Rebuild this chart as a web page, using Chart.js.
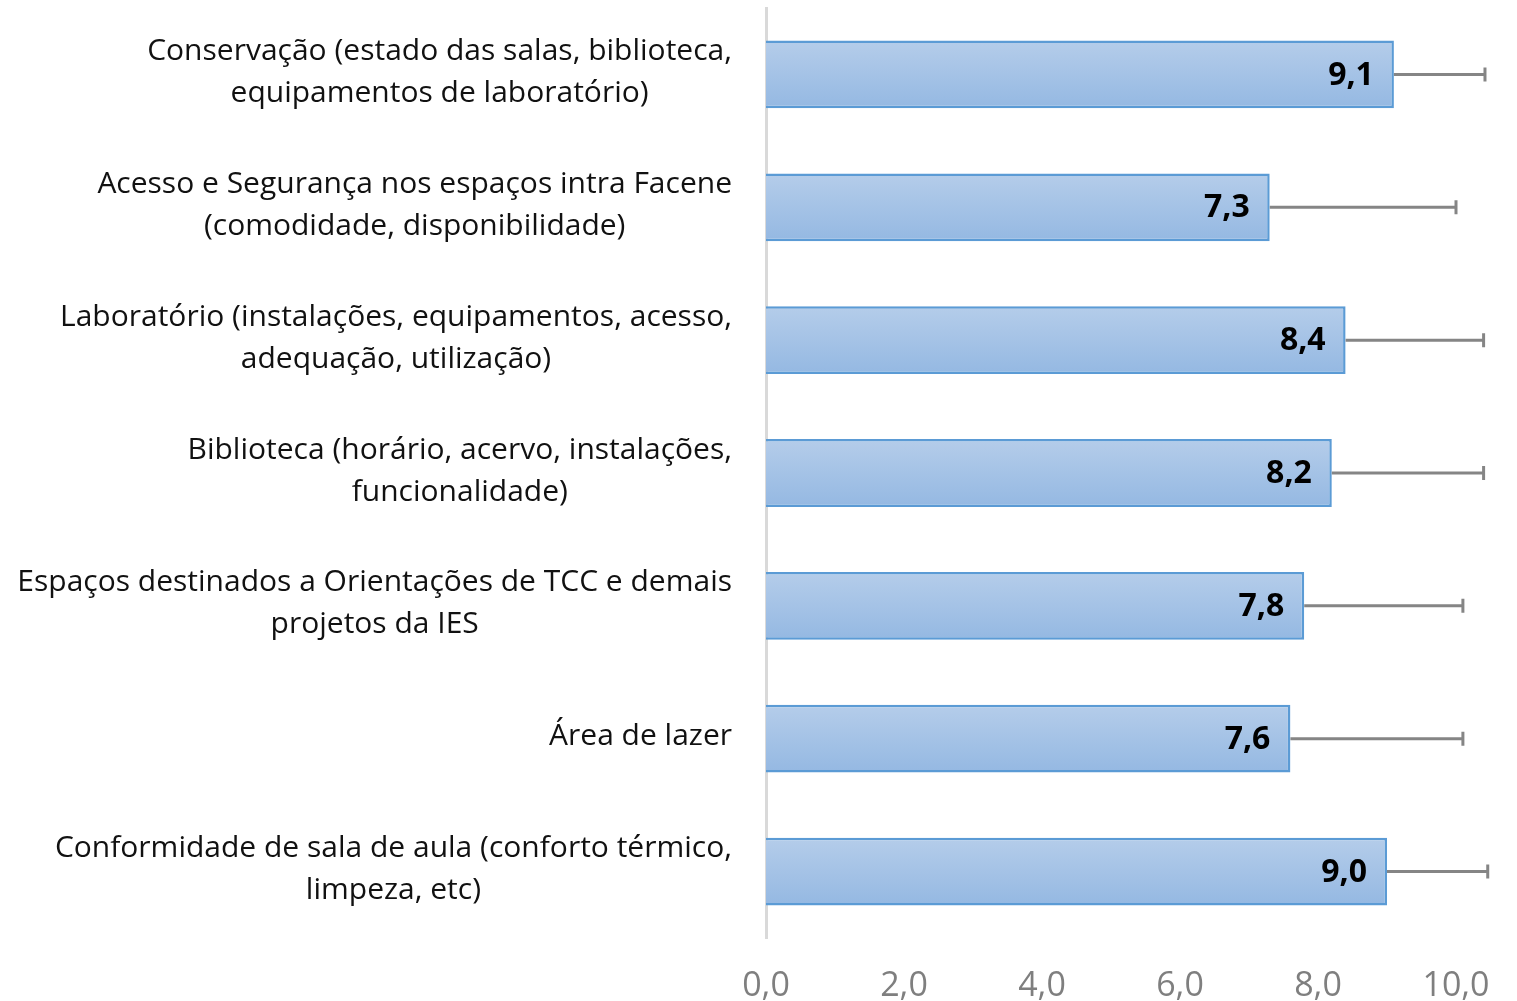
<!DOCTYPE html>
<html>
<head>
<meta charset="utf-8">
<script src="https://cdn.jsdelivr.net/npm/chart.js@4"></script>
<style>
  html, body { margin: 0; padding: 0; background: #ffffff; }
  #wrap { width: 1517px; height: 1001px; }
</style>
</head>
<body>
<div id="wrap"><canvas id="c"></canvas></div>
<script>
const categories = [
    ['Conservação (estado das salas, biblioteca,', 'equipamentos de laboratório)'],
    ['Acesso e Segurança nos espaços intra Facene', '(comodidade, disponibilidade)'],
    ['Laboratório (instalações, equipamentos, acesso,', 'adequação, utilização)'],
    ['Biblioteca (horário, acervo, instalações,', 'funcionalidade)'],
    ['Espaços destinados a Orientações de TCC e demais', 'projetos da IES'],
    ['Área de lazer'],
    ['Conformidade de sala de aula (conforto térmico,', 'limpeza, etc)'],
];
const scores = [9.1, 7.3, 8.4, 8.2, 7.8, 7.6, 9.0];
const errors = [1.32, 2.7, 2.0, 2.2, 2.3, 2.5, 1.46];
const xTicks = [0, 2, 4, 6, 8, 10];

const FONT = '"Open Sans", Lato, sans-serif';

function fmt(v) {
    return v.toFixed(1).replace('.', ',');
}

// gradient per bar, light at top, a bit darker at the bottom
function barFill(ctx) {
    const chart = ctx.chart;
    const y = chart.scales.y;
    if (!chart.chartArea || !y || ctx.dataIndex === undefined) return '#a7c3e7';
    const cy = y.getPixelForValue(ctx.dataIndex);
    const half = (chart.chartArea.bottom - chart.chartArea.top) / categories.length * 0.26;
    const g = chart.ctx.createLinearGradient(0, cy - half, 0, cy + half);
    g.addColorStop(0, '#b5cdea');
    g.addColorStop(1, '#94b8e2');
    return g;
}

// Excel-style category labels: block right-aligned to the axis, lines centred inside the block
const categoryLabels = {
    id: 'categoryLabels',
    afterDraw(chart) {
        const ctx = chart.ctx;
        const y = chart.scales.y;
        const right = y.right - 34;
        const lineH = 42;
        ctx.save();
        ctx.fillStyle = '#111111';
        ctx.font = '30px ' + FONT;
        ctx.textAlign = 'center';
        ctx.textBaseline = 'middle';
        categories.forEach((lines, i) => {
            const w = Math.max(...lines.map(l => ctx.measureText(l).width));
            const cx = right - w / 2;
            const cy = y.getPixelForValue(i) - 2;
            const top = cy - (lines.length - 1) * lineH / 2;
            lines.forEach((l, j) => ctx.fillText(l, cx, top + j * lineH));
        });
        ctx.restore();
    },
};

const errorBars = {
    id: 'errorBars',
    afterDatasetsDraw(chart) {
        const ctx = chart.ctx;
        const x = chart.scales.x;
        const meta = chart.getDatasetMeta(0);
        ctx.save();
        ctx.strokeStyle = '#858585';
        ctx.lineWidth = 3;
        meta.data.forEach((bar, i) => {
            const x0 = x.getPixelForValue(scores[i]);
            const x1 = x.getPixelForValue(scores[i] + errors[i]);
            ctx.beginPath();
            ctx.moveTo(x0, bar.y);
            ctx.lineTo(x1, bar.y);
            ctx.moveTo(x1, bar.y - 7);
            ctx.lineTo(x1, bar.y + 7);
            ctx.stroke();
        });
        // value labels inside the bar end
        ctx.fillStyle = '#000000';
        ctx.font = 'bold 32px ' + FONT;
        ctx.textAlign = 'right';
        ctx.textBaseline = 'middle';
        meta.data.forEach((bar, i) => {
            ctx.fillText(fmt(scores[i]), bar.x - 20, bar.y + 1);
        });
        ctx.restore();
    },
};

new Chart(document.getElementById('c'), {
    type: 'bar',
    data: {
        labels: categories.map(l => l.join(' ')),
        datasets: [{
            data: scores,
            backgroundColor: barFill,
            borderColor: '#5b9bd5',
            borderWidth: 2.5,
            borderSkipped: 'left',
            barPercentage: 0.51,
            categoryPercentage: 1,
        }],
    },
    options: {
        indexAxis: 'y',
        responsive: true,
        maintainAspectRatio: false,
        animation: false,
        layout: { padding: { top: 8, right: 61, bottom: 0, left: 0 } },
        plugins: {
            legend: { display: false },
            tooltip: { enabled: false },
        },
        scales: {
            x: {
                min: 0,
                max: 10,
                afterBuildTicks: (s) => { s.ticks = xTicks.map(v => ({ value: v })); },
                afterFit: (s) => { s.height = 63; s.paddingLeft = 0; s.paddingRight = 0; },
                grid: { display: false, drawTicks: false },
                border: { display: false },
                ticks: {
                    color: '#7f7f7f',
                    font: { family: FONT, size: 34 },
                    padding: 28,
                    maxRotation: 0,
                    callback: (v) => fmt(v),
                },
            },
            y: {
                afterFit: (s) => { s.width = 766; s.paddingTop = 0; s.paddingBottom = 0; },
                grid: { display: false, drawTicks: false },
                border: { display: true, color: '#d9d9d9', width: 3 },
                ticks: { display: false },
            },
        },
    },
    plugins: [errorBars, categoryLabels],
});
</script>
</body>
</html>
